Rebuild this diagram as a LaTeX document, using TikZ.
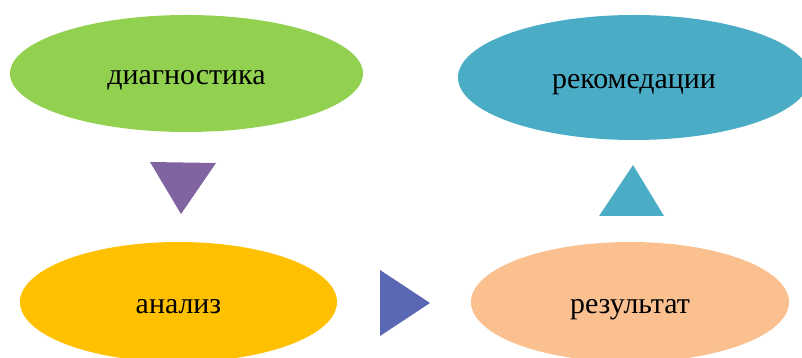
\documentclass[tikz,border=0pt]{standalone}
\usepackage{fontspec}
\setmainfont{Liberation Serif}
\usepackage{xcolor}
\usetikzlibrary{shapes}

\definecolor{diagGreen}{HTML}{92D050}
\definecolor{recTeal}{HTML}{4BACC6}
\definecolor{anaYellow}{HTML}{FFC000}
\definecolor{resPeach}{HTML}{FAC090}
\definecolor{arrPurple}{HTML}{8064A2}
\definecolor{arrBlue}{HTML}{5A67B4}

\tikzset{
  stage/.style={ellipse,inner sep=0pt,text height=30bp,text depth=7bp,
    font=\fontsize{30}{36}\selectfont},
}

\begin{document}
\begin{tikzpicture}[line join=bevel,]
%%
\clip (0bp,0bp) rectangle (802bp,358bp);
\node (diag) at (186.5bp,284.5bp) [stage,fill=diagGreen,minimum width=353bp,minimum height=117bp] {диагностика};
  \node (rec) at (634bp,280.5bp) [stage,fill=recTeal,minimum width=352bp,minimum height=125bp] {рекомедации};
  \node (ana) at (178.5bp,56bp) [stage,fill=anaYellow,minimum width=317bp,minimum height=120bp] {анализ};
  \node (res) at (630bp,56bp) [stage,fill=resPeach,minimum width=318bp,minimum height=120bp] {результат};
  \fill [arrPurple,] (150bp,196bp) -- (216bp,195bp) -- (181bp,144bp) -- cycle;
  \fill [arrBlue,] (380bp,88bp) -- (430bp,55bp) -- (380bp,22bp) -- cycle;
  \fill [recTeal,] (599bp,142bp) -- (633bp,193bp) -- (664bp,142bp) -- cycle;
%
\end{tikzpicture}
\end{document}
